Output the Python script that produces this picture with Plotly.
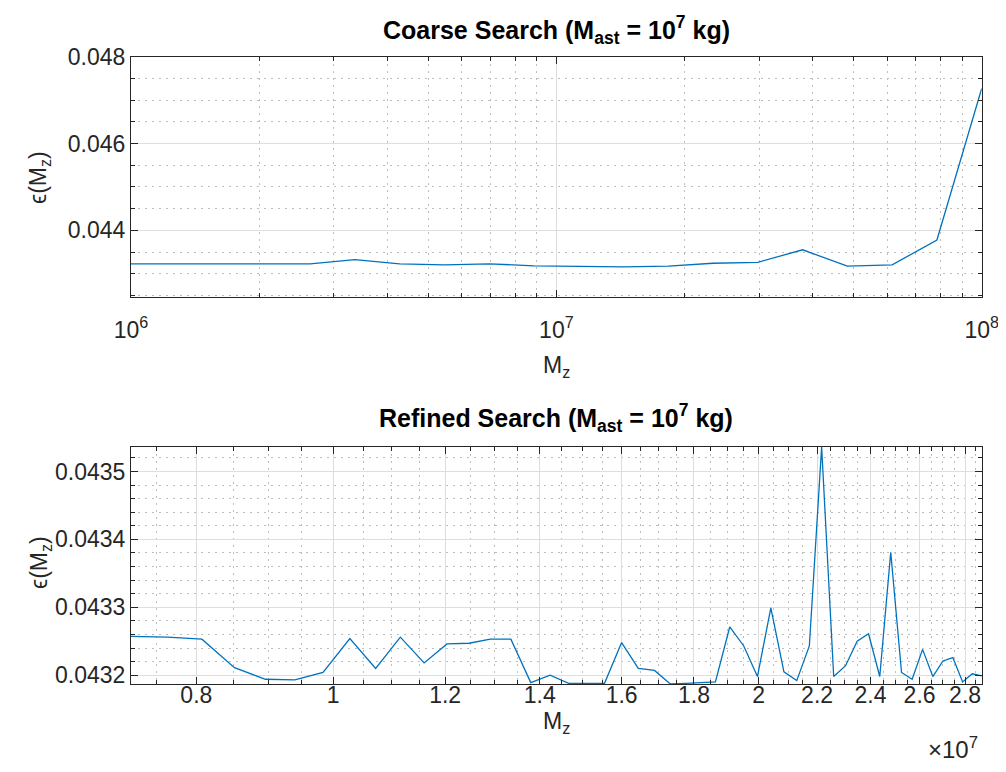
import plotly.graph_objects as go

# ---------------- data ----------------
# Coarse search (log-spaced masses)
mz_coarse = [1.0000e6, 1.2743e6, 1.6238e6, 2.0691e6, 2.6367e6, 3.3598e6, 4.2813e6,
             5.4556e6, 6.9519e6, 8.8587e6, 1.1288e7, 1.4384e7, 1.8330e7, 2.3357e7,
             2.9764e7, 3.7927e7, 4.8329e7, 6.1585e7, 7.8476e7, 1.0000e8]
eps_coarse = [0.04323, 0.04323, 0.04323, 0.04323, 0.04323, 0.043327, 0.04323,
              0.043207, 0.04323, 0.043185, 0.043169, 0.043162, 0.043176, 0.043244,
              0.043266, 0.043554, 0.043176, 0.043207, 0.04378, 0.047268]

# Refined search (masses in units of 1e7 kg)
mz_refined_e7 = [0.7192, 0.7632, 0.8073, 0.8513, 0.8953, 0.9394, 0.9834, 1.0274,
                 1.0715, 1.1155, 1.1596, 1.2036, 1.2476, 1.2917, 1.3357, 1.3797,
                 1.4238, 1.4678, 1.5118, 1.5559, 1.5999, 1.6439, 1.6880, 1.7320,
                 1.7760, 1.8201, 1.8641, 1.9081, 1.9522, 1.9962, 2.0403, 2.0843,
                 2.1283, 2.1724, 2.2164, 2.2604, 2.3045, 2.3485, 2.3925, 2.4366,
                 2.4806, 2.5246, 2.5687, 2.6127, 2.6567, 2.7008, 2.7448, 2.7888,
                 2.8329, 2.8769]
eps_refined = [0.043257, 0.043256, 0.043253, 0.043211, 0.043194, 0.043193, 0.043204,
               0.043254, 0.043210, 0.043256, 0.043218, 0.043246, 0.043247, 0.043253,
               0.043253, 0.043189, 0.043200, 0.043188, 0.043188, 0.043188, 0.043248,
               0.043210, 0.043207, 0.043187, 0.043188, 0.043189, 0.043190, 0.043271,
               0.043243, 0.043198, 0.043299, 0.043205, 0.043192, 0.043243, 0.043536,
               0.043198, 0.043214, 0.043250, 0.043261, 0.043198, 0.043381, 0.043204,
               0.043194, 0.043238, 0.043198, 0.043221, 0.043226, 0.043190, 0.043202,
               0.043199]

coarse_xticks = [1e6, 1e7, 1e8]
coarse_xticktext = ["10<sup>6</sup>", "10<sup>7</sup>", "10<sup>8</sup>"]
refined_xticks_e7 = [0.8, 1, 1.2, 1.4, 1.6, 1.8, 2, 2.2, 2.4, 2.6, 2.8]
refined_xticktext = ["0.8", "1", "1.2", "1.4", "1.6", "1.8", "2", "2.2", "2.4", "2.6", "2.8"]

title_top = "Coarse Search (M<sub>ast</sub> = 10<sup>7</sup> kg)"
title_bot = "Refined Search (M<sub>ast</sub> = 10<sup>7</sup> kg)"
ylab = "\u03f5(M<sub>z</sub>)"
xlab = "M<sub>z</sub>"

# ---------------- style ----------------
OFF = 8                      # default page body margin in write_html output
W, H = 1006 - OFF, 772 - OFF
AX = "#262626"
LINE = "#0072BD"
FONT = "Liberation Sans, Arial, Helvetica, sans-serif"
TFONT = "Liberation Sans, Arial, sans-serif"

mz_refined = [v * 1e7 for v in mz_refined_e7]
refined_xticks = [v * 1e7 for v in refined_xticks_e7]

coarse_minor = [m * 10 ** e for e in (6, 7) for m in range(2, 10)]
refined_minor = [round(0.70 + 0.05 * i, 2) * 1e7 for i in range(0, 45)
                 if round((0.70 + 0.05 * i) * 10, 6) % 2 != 0]


def px_x(p):
    return (p - OFF) / W


def px_y(p):
    return 1 - (p - OFF) / H


def axis_common(**kw):
    d = dict(showline=True, linecolor=AX, linewidth=1, mirror="ticks",
             ticks="inside", ticklen=7, tickwidth=1, tickcolor=AX,
             showgrid=True, gridcolor="#dedede", gridwidth=1, zeroline=False,
             automargin=False,
             tickfont=dict(family=FONT, size=23, color=AX),
             minor=dict(ticks="inside", ticklen=4, tickwidth=1, tickcolor=AX,
                        showgrid=True, gridcolor="#bdbdbd", griddash="2px,5px",
                        gridwidth=1))
    for k, v in kw.items():
        if k == "minor":
            d["minor"].update(v)
        else:
            d[k] = v
    return d


fig = go.Figure()
fig.add_trace(go.Scatter(x=mz_coarse, y=eps_coarse, mode="lines",
                         line=dict(color=LINE, width=1.3), xaxis="x", yaxis="y",
                         showlegend=False))
fig.add_trace(go.Scatter(x=mz_refined, y=eps_refined, mode="lines",
                         line=dict(color=LINE, width=1.3), xaxis="x2", yaxis="y2",
                         showlegend=False))

xdom = [px_x(131), px_x(981.7)]

fig.update_layout(
    width=W, height=H, margin=dict(l=0, r=0, t=0, b=0),
    paper_bgcolor="white", plot_bgcolor="white",
    xaxis=axis_common(type="log", domain=xdom, anchor="y",
                      range=[6, 8], tickmode="array", tickvals=coarse_xticks,
                      ticktext=coarse_xticktext, ticklabelstandoff=12,
                      minor=dict(tickmode="array", tickvals=coarse_minor)),
    yaxis=axis_common(domain=[px_y(297.3), px_y(56.7)], anchor="x",
                      range=[0.04246, 0.048], tickmode="array",
                      tickvals=[0.044, 0.046, 0.048],
                      ticktext=["0.044", "0.046", "0.048"],
                      minor=dict(tickmode="linear", tick0=0.0, dtick=0.0005)),
    xaxis2=axis_common(type="log", domain=xdom, anchor="y2",
                       range=[6.85685, 7.45893],
                       tickmode="array", tickvals=refined_xticks,
                       ticktext=refined_xticktext, ticklabelstandoff=-10,
                       minor=dict(tickmode="array", tickvals=refined_minor)),
    yaxis2=axis_common(domain=[px_y(684), px_y(446.7)], anchor="x2",
                       range=[0.043187, 0.0435365], tickmode="array",
                       tickvals=[0.0432, 0.0433, 0.0434, 0.0435],
                       ticktext=["0.0432", "0.0433", "0.0434", "0.0435"],
                       minor=dict(tickmode="linear", tick0=0.0, dtick=0.00002)),
)

ann = []
ann.append(dict(text="<b>" + title_top + "</b>", x=px_x(556), y=px_y(30),
                font=dict(family=TFONT, size=25, color="black")))
ann.append(dict(text="<b>" + title_bot + "</b>", x=px_x(556), y=px_y(418),
                font=dict(family=TFONT, size=25, color="black")))
ann.append(dict(text=xlab, x=px_x(556), y=px_y(366),
                font=dict(family=FONT, size=23, color=AX)))
ann.append(dict(text=xlab, x=px_x(556), y=px_y(722),
                font=dict(family=FONT, size=23, color=AX)))
ann.append(dict(text=ylab, x=px_x(40), y=px_y(177), textangle=-90,
                font=dict(family=FONT, size=23, color=AX)))
ann.append(dict(text=ylab, x=px_x(40), y=px_y(562), textangle=-90,
                font=dict(family=FONT, size=23, color=AX)))
ann.append(dict(text="\u00d710<sup>7</sup>", x=px_x(980), y=px_y(748),
                xanchor="right",
                font=dict(family=FONT, size=24, color=AX)))
for a in ann:
    a.setdefault("xanchor", "center")
    a.update(xref="paper", yref="paper", yanchor="middle", showarrow=False)
fig.update_layout(annotations=ann)

fig.write_html("out.html")
